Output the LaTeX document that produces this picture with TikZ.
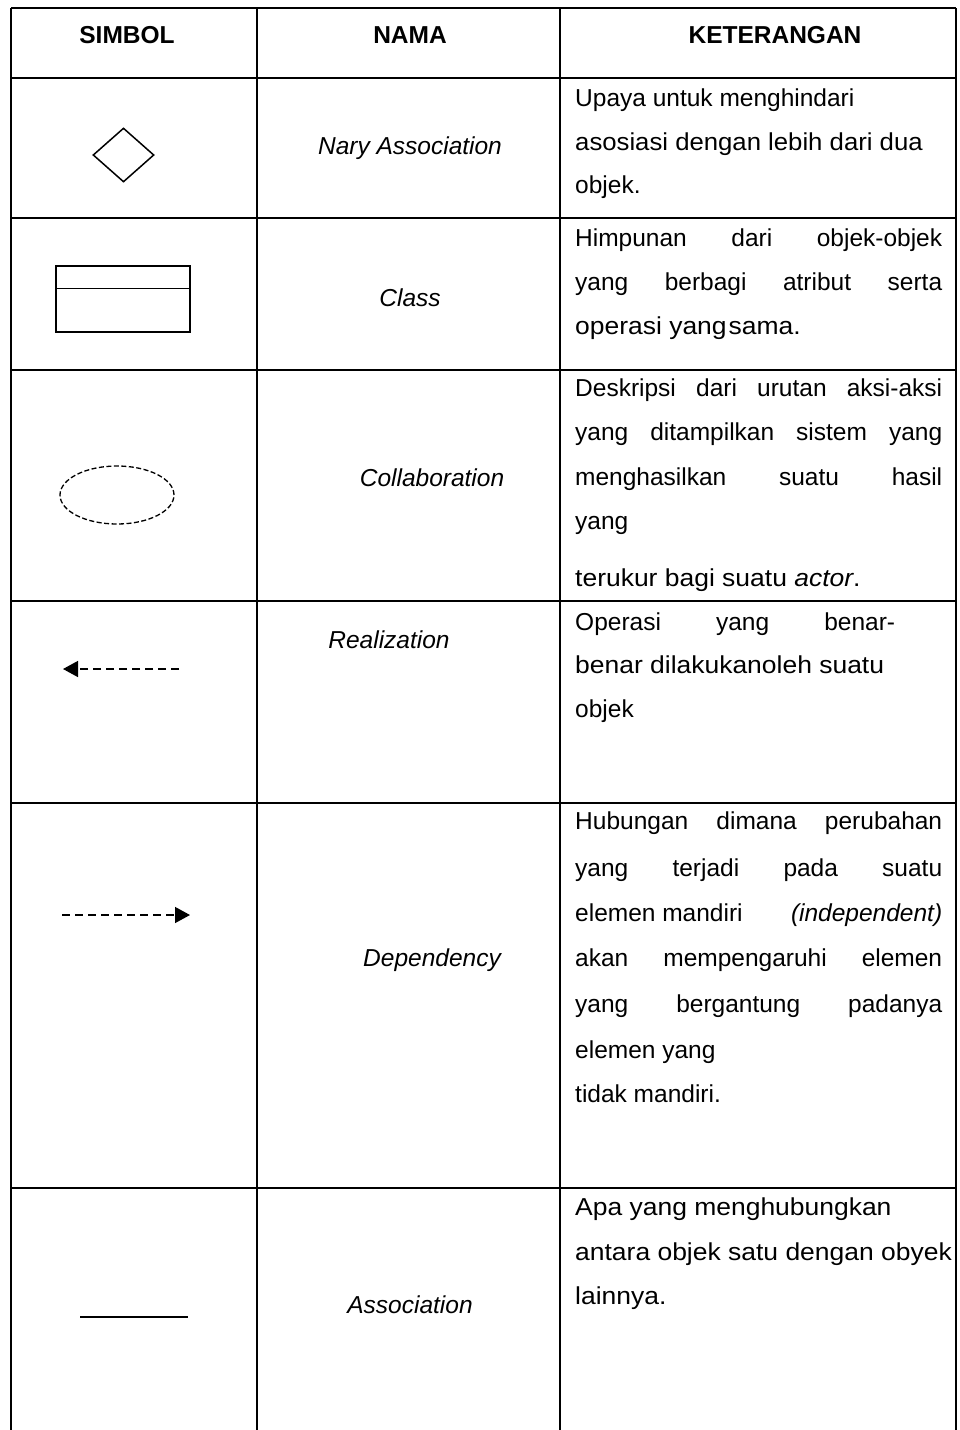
\documentclass[tikz,border=0pt]{standalone}
\usepackage{fontspec}
\setmainfont{Liberation Sans}
\newfontfamily\widefont[FakeStretch=1.08,ItalicFont=Liberation Sans Italic,ItalicFeatures={FakeStretch=1.08}]{Liberation Sans}
\newfontfamily\midfont[FakeStretch=1.05]{Liberation Sans}
\usetikzlibrary{arrows.meta,shapes.geometric}
\newcommand\jline[1]{\hbox to 367pt{#1}}
\begin{document}
\begin{tikzpicture}[x=1pt,y=-1pt,
  gridline/.style={line width=1.6pt},
  txt/.style={anchor=base west,inner sep=0pt,font=\fontsize{24.5}{29}\selectfont},
  txtw/.style={anchor=base west,inner sep=0pt,font=\fontsize{24.5}{29}\widefont},
  nm/.style={anchor=base,inner sep=0pt,font=\fontsize{24.5}{29}\selectfont\itshape},
  hd/.style={anchor=base,inner sep=0pt,font=\fontsize{24.5}{29}\selectfont\bfseries},
  sym/.style={line width=1.5pt},
  arr/.style={sym,dash pattern=on 8pt off 5pt,-{Triangle[length=15pt,width=16pt]}}]
\useasboundingbox[fill=white] (0,0) rectangle (959,1430);
% grid
\foreach \x in {11,257,560,956} \draw[gridline] (\x,8) -- (\x,1430);
\foreach \y in {8,78,218,370,601,803,1188} \draw[gridline] (11,\y) -- (956,\y);
% header
\node[hd] (h1) at (127,43.5) {SIMBOL};
\node[hd] (h2) at (410,43.5) {NAMA};
\node[hd] (h3) at (775,43.5) {KETERANGAN};
% symbols
\node[draw,sym,diamond,minimum width=61pt,minimum height=54pt,inner sep=0pt] (nary) at (123.5,155) {};
\node[draw,sym,rectangle,minimum width=134pt,minimum height=66pt,inner sep=0pt] (cls) at (123,299) {};
\draw[sym] ([yshift=-23pt]cls.north west) -- ([yshift=-23pt]cls.north east);
\node[draw,line width=1.3pt,dash pattern=on 5pt off 2.5pt,ellipse,minimum width=114pt,minimum height=58pt,inner sep=0pt] (collab) at (117,495) {};
\coordinate (ra) at (179,669);
\coordinate (rb) at (63,669);
\draw[arr] (ra) -- (rb);
\coordinate (da) at (62,915);
\coordinate (db) at (190,915);
\draw[arr] (da) -- (db);
\coordinate (aa) at (80,1317);
\coordinate (ab) at (188,1317);
\draw[sym] (aa) -- (ab);
% names
\node[nm] (n1) at (410,154.5) {Nary Association};
\node[nm] (n2) at (410,306.5) {Class};
\node[nm] (n3) at (432,486.5) {Collaboration};
\node[nm] (n4) at (389,648.5) {Realization};
\node[nm] (n5) at (432,966.5) {Dependency};
\node[nm] (n6) at (410,1313.5) {Association};
% descriptions
\node[txt] (k1a) at (575,106.5) {Upaya untuk menghindari};
\node[txt,font=\fontsize{24.5}{29}\midfont] (k1b) at (575,150.5) {asosiasi dengan lebih dari dua};
\node[txt] (k1c) at (575,193.5) {objek.};
\node[txt] (k2a) at (575,246.5) {\jline{Himpunan\hfill dari\hfill objek-objek}};
\node[txt] (k2b) at (575,290.5) {\jline{yang\hfill berbagi\hfill atribut\hfill serta}};
\node[txtw] (k2c) at (575,334.5) {operasi yang\kern2pt sama.};
\node[txt] (k3a) at (575,396.5) {\jline{Deskripsi\hfill dari\hfill urutan\hfill aksi-aksi}};
\node[txt] (k3b) at (575,440.5) {\jline{yang\hfill ditampilkan\hfill sistem\hfill yang}};
\node[txt] (k3c) at (575,485.5) {\jline{menghasilkan\hfill suatu\hfill hasil}};
\node[txt] (k3d) at (575,529) {yang};
\node[txtw] (k3e) at (575,586) {terukur bagi suatu \textit{actor}.};
\node[txt] (k4a) at (575,630) {\hbox to 320pt{Operasi\hfill yang\hfill benar-}};
\node[txtw] (k4b) at (575,673) {benar dilakukanoleh suatu};
\node[txt] (k4c) at (575,717) {objek};
\node[txt] (k5a) at (575,829.5) {\jline{Hubungan\hfill dimana\hfill perubahan}};
\node[txt] (k5b) at (575,876) {\jline{yang\hfill terjadi\hfill pada\hfill suatu}};
\node[txt] (k5c) at (575,921) {\jline{elemen mandiri\hfill\textit{(independent)}}};
\node[txt] (k5d) at (575,966.5) {\jline{akan\hfill mempengaruhi\hfill elemen}};
\node[txt] (k5e) at (575,1012) {\jline{yang\hfill bergantung\hfill padanya}};
\node[txt] (k5f) at (575,1058) {elemen yang};
\node[txt] (k5g) at (575,1102) {tidak mandiri.};
\node[txtw] (k6a) at (575,1215.5) {Apa yang menghubungkan};
\node[txtw] (k6b) at (575,1260.5) {antara objek satu dengan obyek};
\node[txtw] (k6c) at (575,1304.5) {lainnya.};
\end{tikzpicture}
\end{document}
